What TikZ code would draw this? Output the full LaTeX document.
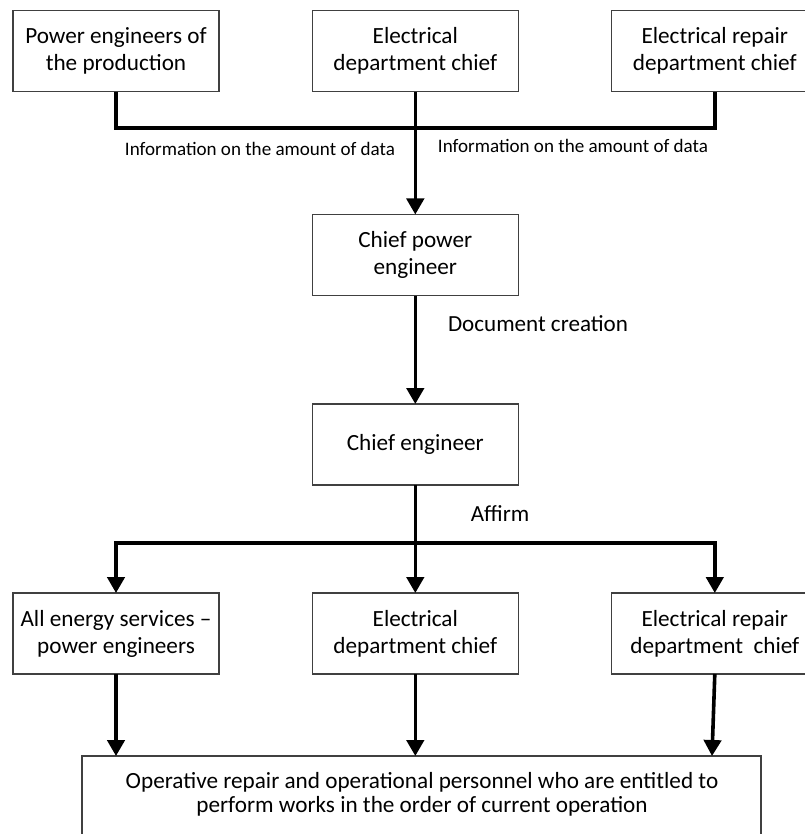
\documentclass[tikz,border=0pt]{standalone}
\usepackage{fontspec}
\setmainfont{Carlito}
\usetikzlibrary{arrows.meta}
\definecolor{boxgray}{RGB}{64,64,64}
\begin{document}
\begin{tikzpicture}[
  x=0.75pt, y=-0.75pt,
  unit/.style={draw=boxgray, line width=0.8pt, fill=white, inner sep=0pt, outer sep=0pt,
    minimum width=154.5pt, minimum height=60.75pt, align=center,
    font=\fontsize{17.4}{20.25}\selectfont},
  link/.style={line width=2.7pt, line join=miter},
  flow/.style={link, -{Triangle[length=12pt,width=13pt]}},
  note/.style={inner sep=0pt, font=\fontsize{17.3}{20.25}\selectfont},
  smallnote/.style={inner sep=0pt, font=\fontsize{14.3}{17}\selectfont}
]
\useasboundingbox (0,0) rectangle (805,834);
\clip (0,0) rectangle (805,834);

% top row of sources
\node[unit] (A1) at (116,51.3) {Power engineers of\\the production};
\node[unit] (A2) at (415.3,51.3) {Electrical\\department chief};
\node[unit] (A3) at (714.8,51.3) {Electrical repair\\department chief};

% central chain
\node[unit] (B) at (415.3,255) {Chief power\\engineer};
\node[unit] (C) at (415.3,444.5) {Chief engineer};

% bottom row of recipients
\node[unit] (D1) at (116,633.5) {All energy services --\\power engineers};
\node[unit] (D2) at (415.3,633.5) {Electrical\\department chief};
\node[unit] (D3) at (714.8,633.5) {Electrical repair\\department\ \ chief};

% final box, open at the bottom edge
\node[draw=boxgray, line width=0.8pt, inner sep=0pt, outer sep=0pt, anchor=north,
      minimum width=509.25pt, minimum height=80pt] (E) at (421.5,756) {};
\node[note, align=center, font=\fontsize{17.4}{18}\selectfont] (Et) at (422,794)
  {Operative repair and operational personnel who are entitled to\\perform works in the order of current operation};

% junctions
\coordinate (J1) at (415.3,128);
\coordinate (J2) at (415.3,543);
\coordinate (e3) at (712,756);

% collecting the information
\draw[link] (A1.south) |- (J1) -| (A3.south);
\draw[link] (A2.south) -- (J1);
\draw[flow] (J1) -- (B.north);
\node[smallnote] (L1) at (260,149) {Information on the amount of data};
\node[smallnote] (L2) at (573,146) {Information on the amount of data};

% document creation
\draw[flow] (B.south) -- (C.north);
\node[note] (L3) at (538,324) {Document creation};

% distribution
\draw[link] (C.south) -- (J2);
\draw[flow] (J2) -| (D1.north);
\draw[flow] (J2) -| (D3.north);
\draw[flow] (J2) -- (D2.north);
\node[note] (L4) at (500,514) {Affirm};

% into the final box
\draw[flow] (D1.south) -- (D1.south |- E.north);
\draw[flow] (D2.south) -- (D2.south |- E.north);
\draw[flow] (D3.south) -- (e3);
\end{tikzpicture}
\end{document}
